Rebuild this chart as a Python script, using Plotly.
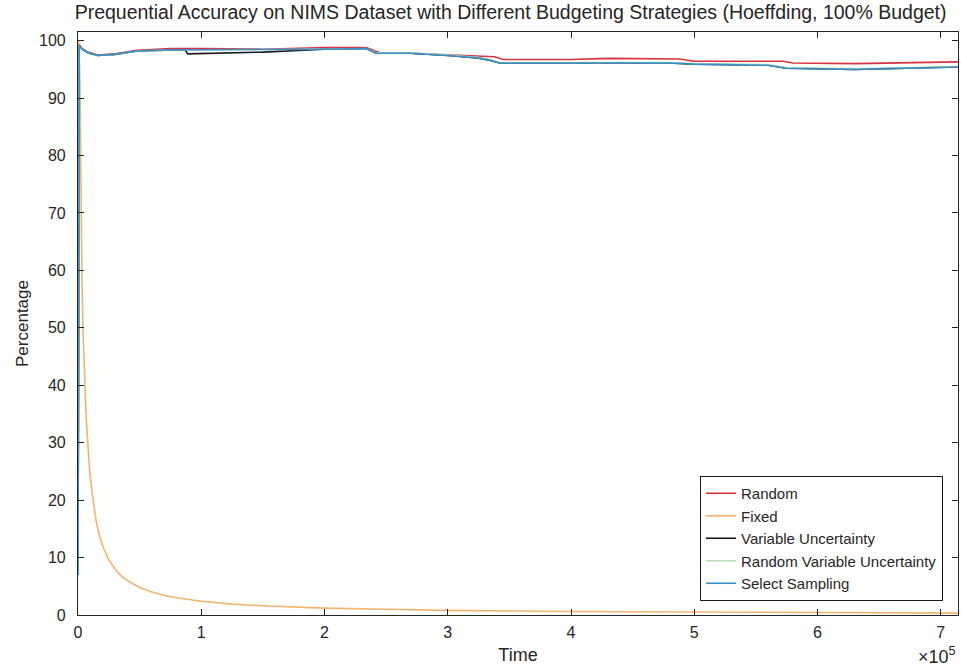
import plotly.graph_objects as go

# Prequential accuracy (%) of a Hoeffding tree on NIMS under several budgeting strategies
random_x = [0, 1000, 3000, 8000, 16000, 30000, 48000, 75000, 100000, 150000, 200000,
            234000, 240000, 246000, 270000, 300000, 324000, 338000, 345000, 400000,
            430000, 488000, 500000, 572000, 580000, 630000, 714000]
random_y = [7, 99.3, 98.7, 98.0, 97.5, 97.7, 98.3, 98.6, 98.6, 98.5, 98.8,
            98.8, 98.3, 97.8, 97.8, 97.5, 97.3, 97.2, 96.7, 96.7,
            96.9, 96.8, 96.4, 96.4, 96.1, 96.0, 96.3]

fixed_x = [0, 800, 1600, 2400, 3200, 4000, 4700, 6000, 7000, 8000, 9500, 11600,
           13000, 15000, 17500, 20000, 25000, 30000, 35000, 40000, 50000, 60000,
           70000, 80000, 100000, 125000, 150000, 200000, 250000, 300000, 400000,
           500000, 600000, 714000]
fixed_y = [100, 99.5, 92, 72, 59, 50, 45, 38, 33, 29, 25, 21,
           18.5, 16, 13.8, 12, 9.6, 8.0, 6.8, 6.0, 4.8, 4.0,
           3.4, 3.0, 2.4, 1.9, 1.6, 1.2, 1.0, 0.8, 0.6,
           0.48, 0.4, 0.33]

varunc_x = [0, 1000, 3000, 8000, 16000, 30000, 48000, 75000, 87000, 89000, 120000,
            150000, 200000, 234000, 242000, 250000, 270000, 300000, 324000, 334000,
            342000, 400000, 480000, 500000, 560000, 575000, 630000, 714000]
varunc_y = [7, 99.2, 98.6, 97.9, 97.4, 97.6, 98.2, 98.4, 98.4, 97.7, 97.8,
            98.0, 98.5, 98.6, 97.8, 97.8, 97.8, 97.4, 97.0, 96.6,
            96.1, 96.1, 96.1, 95.9, 95.7, 95.2, 95.0, 95.4]

randvar_x = [0, 1000, 3000, 8000, 16000, 30000, 48000, 75000, 100000, 150000, 200000,
             234000, 242000, 250000, 270000, 300000, 324000, 334000, 342000, 400000,
             480000, 500000, 560000, 575000, 630000, 714000]
randvar_y = [7, 99.2, 98.6, 97.9, 97.4, 97.6, 98.2, 98.4, 98.4, 98.4, 98.5,
             98.6, 97.9, 97.9, 97.9, 97.5, 97.1, 96.7, 96.2, 96.2,
             96.2, 96.0, 95.8, 95.3, 95.1, 95.5]

select_x = [0, 1000, 3000, 8000, 16000, 30000, 48000, 75000, 100000, 150000, 200000,
            234000, 242000, 250000, 270000, 300000, 324000, 334000, 342000, 400000,
            480000, 500000, 560000, 575000, 630000, 714000]
select_y = [7, 99.3, 98.5, 97.9, 97.4, 97.6, 98.2, 98.4, 98.4, 98.4, 98.5,
            98.6, 97.8, 97.8, 97.8, 97.4, 97.0, 96.6, 96.1, 96.1,
            96.1, 95.9, 95.7, 95.2, 95.0, 95.4]

x_tick_vals = [0, 100000, 200000, 300000, 400000, 500000, 600000, 700000]
x_tick_text = ["0", "1", "2", "3", "4", "5", "6", "7"]
y_tick_vals = [0, 10, 20, 30, 40, 50, 60, 70, 80, 90, 100]

series = [
    ("Random", random_x, random_y, "#d9323f"),
    ("Fixed", fixed_x, fixed_y, "#f4b36e"),
    ("Variable Uncertainty", varunc_x, varunc_y, "#1a1a1a"),
    ("Random Variable Uncertainty", randvar_x, randvar_y, "#b7dcb4"),
    ("Select Sampling", select_x, select_y, "#3a8fc6"),
]

FONT = "Liberation Sans, Arial, sans-serif"
INK = "#262626"

fig = go.Figure()
for name, xs, ys, color in series:
    fig.add_trace(go.Scatter(x=xs, y=ys, mode="lines", name=name,
                             line=dict(color=color, width=1.6)))

axis_common = dict(
    showgrid=False, zeroline=False, showline=True, linecolor=INK, linewidth=1.2,
    mirror="allticks", ticks="inside", ticklen=6, tickcolor=INK, tickwidth=1.2,
    tickfont=dict(family=FONT, size=16, color=INK),
)

fig.update_layout(
    width=967, height=670,
    margin=dict(l=78, r=9, t=32, b=55),
    paper_bgcolor="white", plot_bgcolor="white",
    font=dict(family=FONT, color=INK),
    title=dict(
        text="Prequential Accuracy on NIMS Dataset with Different Budgeting Strategies (Hoeffding, 100% Budget)",
        x=0.528, xanchor="center", y=1 - 12 / 670, yanchor="middle",
        font=dict(family=FONT, size=19.5, color=INK),
    ),
    xaxis=dict(range=[0, 714000], tickvals=x_tick_vals, ticktext=x_tick_text,
               title=dict(text="Time", font=dict(family=FONT, size=18, color=INK), standoff=8),
               ticklabelstandoff=3, **axis_common),
    yaxis=dict(range=[0, 101.5], tickvals=y_tick_vals,
               title=dict(text="Percentage", font=dict(family=FONT, size=17, color=INK), standoff=6),
               ticklabelstandoff=8, **axis_common),
    legend=dict(
        x=(943 - 78) / 880, xanchor="right", y=(615 - 601) / 583, yanchor="bottom",
        bgcolor="white", bordercolor="#1a1a1a", borderwidth=1,
        font=dict(family=FONT, size=15, color=INK), tracegroupgap=0,
    ),
    showlegend=True,
)

fig.add_annotation(text="\u00d710<sup>5</sup>", xref="paper", yref="paper",
                   x=1.0, xanchor="right", y=-(669 - 615) / 583, yanchor="bottom",
                   showarrow=False, font=dict(family=FONT, size=18, color=INK))

fig.write_html("out.html")
